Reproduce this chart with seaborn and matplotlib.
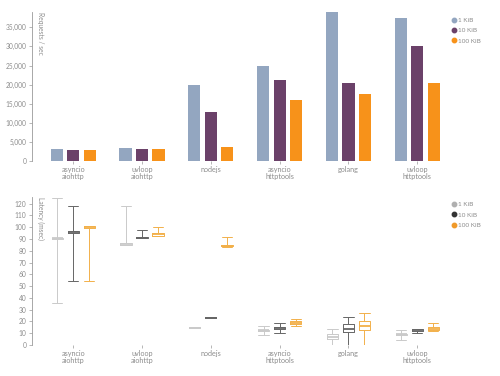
import matplotlib
matplotlib.use("Agg")
import matplotlib.pyplot as plt
import seaborn as sns
import pandas as pd
import numpy as np
from matplotlib.lines import Line2D
from matplotlib.ticker import FuncFormatter

servers = ["asyncio\naiohttp", "uvloop\naiohttp", "nodejs",
           "asyncio\nhttptools", "golang", "uvloop\nhttptools"]
sizes = ["1 KiB", "10 KiB", "100 KiB"]

# Requests / sec
rps_1k = [3200, 3400, 20000, 24800, 38900, 37500]
rps_10k = [3000, 3200, 12700, 21100, 20300, 30200]
rps_100k = [3000, 3200, 3600, 15900, 17500, 20300]

# Latency (msec): [min, q1, median, q3, max] per server
lat_1k = [[36, 90, 90.5, 91, 125],
          [85, 85.3, 86, 87, 118],
          [14.3, 14.5, 14.7, 14.9, 15.0],
          [8.5, 12, 12.5, 13, 16],
          [0, 5, 7, 9.5, 14],
          [4.5, 8.5, 9, 9.5, 12.5]]
lat_10k = [[54, 95.5, 96, 96.5, 118],
           [90.5, 90.8, 91.2, 91.8, 97.5],
           [22.8, 23, 23.3, 23.7, 24],
           [10.5, 13.5, 14.2, 15, 18.5],
           [0, 11, 14, 17.5, 24],
           [10, 12, 12.8, 13.3, 14]]
lat_100k = [[54, 99, 99.8, 100.8, 101],
            [92.5, 93, 94, 95, 100],
            [83.5, 83.8, 84.2, 84.7, 91.5],
            [16.5, 17.5, 18.5, 20, 22.5],
            [0, 12.5, 16.5, 20.5, 27],
            [11.5, 12.5, 13.5, 15, 18.5]]

bar_colors = ["#93a6c0", "#6b4169", "#f7921a"]
box_colors = ["#cacaca", "#666666", "#f2b04a"]
leg2_colors = ["#b0b0b0", "#333333", "#f09a2a"]

sns.set_theme(style="white")
plt.rcParams["font.family"] = ["Lato", "DejaVu Sans"]
txt = "#8c8c8c"
axc = "#9a9a9a"

# long tables
bar_rows = []
for vals, s in zip([rps_1k, rps_10k, rps_100k], sizes):
    for srv, v in zip(servers, vals):
        bar_rows.append({"server": srv, "size": s, "rps": v})
bar_df = pd.DataFrame(bar_rows)

box_rows = []
for vals, s in zip([lat_1k, lat_10k, lat_100k], sizes):
    for srv, arr in zip(servers, vals):
        for v in arr:
            box_rows.append({"server": srv, "size": s, "lat": v})
box_df = pd.DataFrame(box_rows)

fig = plt.figure(figsize=(5.0, 3.76), dpi=100)
ax1 = fig.add_axes([0.064, 0.5718, 0.853, 0.3962])
ax2 = fig.add_axes([0.064, 0.0824, 0.853, 0.3946])

sns.barplot(data=bar_df, x="server", y="rps", hue="size", order=servers,
            hue_order=sizes, palette=bar_colors, width=0.72, gap=0.26,
            saturation=1, legend=False, ax=ax1, edgecolor="none")
ax1.set_ylim(0, 39000)
ax1.set_yticks(np.arange(0, 35001, 5000))
ax1.yaxis.set_major_formatter(FuncFormatter(lambda v, p: f"{int(v):,}"))

sns.boxplot(data=box_df, x="server", y="lat", hue="size", order=servers,
            hue_order=sizes, palette=box_colors, fill=False, whis=(0, 100),
            width=0.7, gap=0.3, linewidth=0.7, legend=False, ax=ax2,
            capwidths=0.15, medianprops={"linewidth": 1.3})
ax2.set_ylim(0, 126)
ax2.set_yticks(np.arange(0, 121, 10))

for ax, lab in [(ax1, "Requests / sec"), (ax2, "Latency (msec)")]:
    ax.set_xlim(-0.6, 5.6)
    ax.set_xlabel("")
    ax.set_ylabel("")
    for sp in ["top", "right", "bottom"]:
        ax.spines[sp].set_visible(False)
    ax.spines["left"].set_color(axc)
    ax.spines["left"].set_linewidth(0.6)
    ax.tick_params(axis="y", which="both", left=True, length=2.5, width=0.5,
                   color=axc, labelsize=4.8, labelcolor=txt, pad=1.5)
    ax.tick_params(axis="x", which="both", bottom=True, length=2, width=0.5,
                   color=axc, labelsize=5.2, labelcolor=txt, pad=1.5)
    for t in ax.get_xticklabels():
        t.set_linespacing(0.95)
    ax.text(0.012, 1.0, lab, transform=ax.transAxes, rotation=270,
            ha="left", va="top", fontsize=4.8, color=txt)
    ax.grid(False)

h1 = [Line2D([], [], marker="o", linestyle="none", markersize=3.2,
             markerfacecolor=c, markeredgecolor=c) for c in bar_colors]
h2 = [Line2D([], [], marker="o", linestyle="none", markersize=3.2,
             markerfacecolor=c, markeredgecolor=c) for c in leg2_colors]
for h, y in [(h1, 0.965), (h2, 0.475)]:
    fig.legend(handles=h, labels=sizes, loc="upper left",
               bbox_to_anchor=(0.895, y), frameon=False, fontsize=4.6,
               labelcolor=txt, handlelength=0.6, handletextpad=0.3,
               labelspacing=0.75, borderpad=0.2)

fig.savefig("out.png", dpi=100, facecolor="white")
